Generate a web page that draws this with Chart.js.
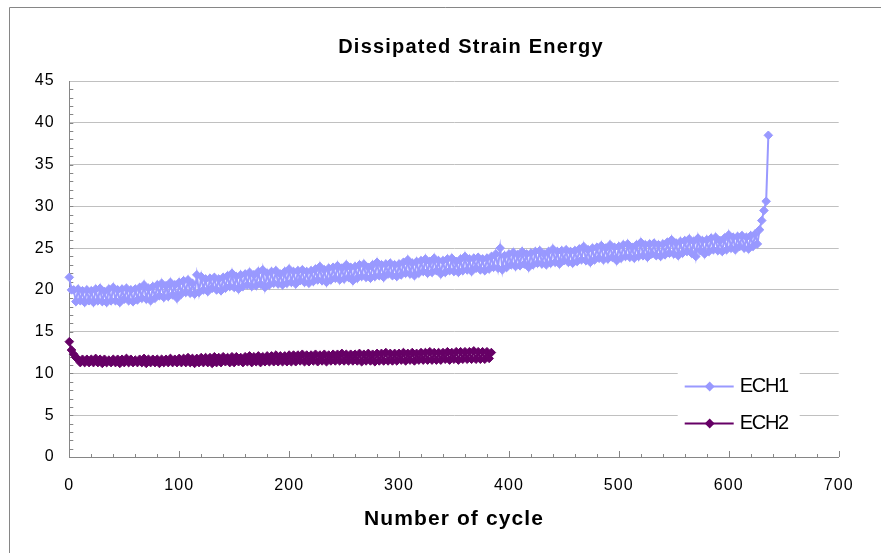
<!DOCTYPE html>
<html>
<head>
<meta charset="utf-8">
<title>Dissipated Strain Energy</title>
<script src="https://cdn.jsdelivr.net/npm/chart.js@4.4.1/dist/chart.umd.min.js"></script>
<style>
  html, body { margin: 0; padding: 0; background: #fff; }
  #wrap { width: 881px; height: 553px; position: relative; }
</style>
</head>
<body>
<div id="wrap"><canvas id="chart"></canvas></div>
<script>
// one reading every 2 cycles
const cycleStep = 2

const ech1 = [
  21.5, 20.0, 20.0, 18.6, 20.1, 18.7, 19.9, 18.5, 20.0, 18.7,
  19.9, 18.5, 20.1, 18.7, 20.2, 18.6, 19.8, 18.5, 20.1, 18.7,
  20.3, 18.7, 20.0, 18.5, 20.1, 18.9, 20.2, 18.7, 20.0, 18.6,
  20.1, 18.8, 20.3, 19.0, 20.6, 18.9, 20.2, 18.7, 20.4, 19.0,
  20.6, 19.3, 20.8, 19.1, 20.5, 19.2, 20.9, 19.4, 20.6, 19.0,
  20.9, 19.5, 21.1, 19.7, 21.2, 19.6, 20.8, 19.5, 21.8, 19.7,
  21.6, 20.0, 21.3, 19.8, 21.4, 20.2, 21.5, 20.0, 21.3, 19.9,
  21.5, 20.2, 21.7, 20.4, 22.0, 20.3, 21.6, 20.1, 21.8, 20.4,
  21.9, 20.6, 22.1, 20.4, 21.8, 20.5, 22.2, 20.7, 22.4, 20.3,
  22.0, 20.6, 22.2, 20.8, 22.3, 20.7, 21.9, 20.6, 22.2, 20.8,
  22.5, 20.9, 22.2, 20.7, 22.3, 21.1, 22.4, 20.9, 22.2, 20.8,
  22.3, 21.0, 22.5, 21.2, 22.8, 21.1, 22.4, 20.9, 22.6, 21.2,
  22.7, 21.4, 22.9, 21.2, 22.6, 21.3, 23.0, 21.5, 22.7, 21.1,
  22.8, 21.4, 23.0, 21.6, 23.1, 21.5, 22.7, 21.4, 23.0, 21.6,
  23.3, 21.7, 23.0, 21.5, 23.1, 21.9, 23.2, 21.7, 23.0, 21.6,
  23.1, 21.8, 23.3, 22.0, 23.6, 21.9, 23.2, 21.7, 23.4, 22.0,
  23.5, 22.2, 23.7, 22.0, 23.4, 22.1, 23.8, 22.3, 23.5, 21.9,
  23.5, 22.1, 23.7, 22.3, 23.8, 22.2, 23.4, 22.1, 23.7, 22.3,
  24.0, 22.4, 23.7, 22.2, 23.8, 22.6, 23.9, 22.4, 23.7, 22.3,
  23.8, 22.5, 24.0, 22.7, 24.3, 22.6, 25.0, 22.4, 24.1, 22.7,
  24.3, 23.0, 24.5, 22.8, 24.2, 22.9, 24.6, 23.1, 24.3, 22.7,
  24.4, 23.0, 24.6, 23.2, 24.7, 23.1, 24.3, 23.0, 24.6, 23.2,
  24.9, 23.3, 24.6, 23.1, 24.7, 23.5, 24.8, 23.3, 24.6, 23.2,
  24.7, 23.4, 24.9, 23.6, 25.2, 23.5, 24.8, 23.3, 25.0, 23.6,
  25.1, 23.8, 25.3, 23.6, 25.0, 23.7, 25.4, 23.9, 25.1, 23.5,
  25.2, 23.8, 25.4, 24.0, 25.5, 23.9, 25.1, 23.8, 25.4, 24.0,
  25.7, 24.1, 25.4, 23.9, 25.5, 24.3, 25.6, 24.1, 25.4, 24.0,
  25.5, 24.2, 25.7, 24.4, 26.0, 24.3, 25.6, 24.1, 25.8, 24.4,
  25.9, 24.6, 26.1, 24.4, 25.8, 24.0, 26.2, 24.7, 25.9, 24.3,
  26.0, 24.6, 26.2, 24.8, 26.3, 24.7, 25.9, 24.6, 26.2, 24.8,
  26.6, 25.0, 26.3, 24.8, 26.4, 25.2, 26.5, 25.0, 26.3, 24.9,
  26.5, 25.2, 26.7, 25.5, 27.2, 28.3, 29.5, 30.6, 38.5
]

const ech2 = [
  13.8, 12.8, 12.3, 11.9, 11.7, 11.3, 11.7, 11.3, 11.7, 11.3,
  11.7, 11.3, 11.8, 11.3, 11.7, 11.2, 11.7, 11.3, 11.6, 11.3,
  11.7, 11.3, 11.7, 11.2, 11.7, 11.3, 11.8, 11.3, 11.7, 11.3,
  11.6, 11.3, 11.7, 11.3, 11.8, 11.2, 11.7, 11.3, 11.7, 11.3,
  11.7, 11.2, 11.7, 11.3, 11.7, 11.3, 11.8, 11.3, 11.7, 11.3,
  11.8, 11.3, 11.8, 11.3, 11.9, 11.3, 11.8, 11.2, 11.8, 11.3,
  11.9, 11.3, 11.9, 11.3, 11.9, 11.2, 12.0, 11.3, 11.9, 11.3,
  12.0, 11.4, 11.9, 11.3, 12.0, 11.3, 12.0, 11.4, 11.9, 11.3,
  12.0, 11.4, 12.1, 11.3, 12.0, 11.4, 12.1, 11.3, 12.0, 11.4,
  12.1, 11.4, 12.1, 11.4, 12.2, 11.4, 12.1, 11.4, 12.1, 11.4,
  12.2, 11.4, 12.2, 11.4, 12.2, 11.5, 12.3, 11.4, 12.2, 11.4,
  12.2, 11.5, 12.3, 11.4, 12.2, 11.5, 12.3, 11.4, 12.2, 11.5,
  12.3, 11.5, 12.3, 11.5, 12.4, 11.5, 12.3, 11.5, 12.3, 11.5,
  12.3, 11.5, 12.4, 11.4, 12.3, 11.5, 12.4, 11.5, 12.3, 11.4,
  12.4, 11.5, 12.4, 11.5, 12.5, 11.5, 12.4, 11.5, 12.4, 11.5,
  12.4, 11.6, 12.5, 11.5, 12.4, 11.6, 12.5, 11.5, 12.4, 11.6,
  12.5, 11.6, 12.5, 11.6, 12.6, 11.6, 12.5, 11.6, 12.5, 11.6,
  12.5, 11.7, 12.6, 11.6, 12.5, 11.7, 12.6, 11.6, 12.6, 11.7,
  12.6, 11.7, 12.6, 11.7, 12.7, 11.7, 12.6, 11.7, 12.6, 11.7,
  12.6, 11.8, 12.5
]

const seriesNames = ["ECH1", "ECH2"]
const seriesColors = ["#9999ff", "#660066"]
const chartTitle = "Dissipated Strain Energy"
const xTitle = "Number of cycle"
const xMax = 700, xStep = 100, xMinorStep = 20
const yMax = 45, yStep = 5, yMinorStep = 1

const axisColor = "#868686"
const gridColor = "#c0c0c0"
const fontFamily = "'Liberation Sans', Arial, sans-serif"

function toPoints(values) {
  return values.map((v, i) => ({ x: i * cycleStep, y: v }))
}

const chartDecor = {
  id: "chartDecor",
  beforeDraw(chart) {
    const ctx = chart.ctx
    ctx.save()
    // outer frame, only top and left edges fall inside the canvas
    ctx.strokeStyle = axisColor
    ctx.lineWidth = 1
    ctx.beginPath()
    ctx.moveTo(9.5, chart.height)
    ctx.lineTo(9.5, 7.5)
    ctx.lineTo(chart.width, 7.5)
    ctx.stroke()
    // title sits a bit right of the plot centre
    ctx.fillStyle = "#000"
    ctx.font = "bold 20px " + fontFamily
    ctx.letterSpacing = "1.2px"
    ctx.textAlign = "center"
    ctx.textBaseline = "alphabetic"
    ctx.fillText(chartTitle, 471, 52.5)
    ctx.restore()
    // spaced out text for ticks and axis title
    ctx.letterSpacing = "1.1px"
  },
  beforeDatasetsDraw(chart) {
    const ctx = chart.ctx
    ctx.letterSpacing = "0px"
    const xs = chart.scales.x, ys = chart.scales.y
    ctx.save()
    ctx.strokeStyle = axisColor
    ctx.lineWidth = 1
    ctx.beginPath()
    for (let v = yMinorStep; v < yMax; v += yMinorStep) {
      const py = Math.round(ys.getPixelForValue(v)) + 0.5
      ctx.moveTo(xs.left, py)
      ctx.lineTo(xs.left + 4, py)
    }
    for (let v = xMinorStep; v <= xMax; v += xMinorStep) {
      const px = Math.round(xs.getPixelForValue(v)) + 0.5
      const len = v % xStep === 0 ? 6 : 3
      ctx.moveTo(px, ys.bottom)
      ctx.lineTo(px, ys.bottom - len)
    }
    ctx.stroke()
    ctx.restore()
  },
  afterDatasetsDraw(chart) {
    const ctx = chart.ctx
    const area = chart.chartArea
    const boxRight = area.right - 39
    const boxLeft = boxRight - 122
    const rowY = [area.bottom - 71, area.bottom - 34]
    ctx.save()
    ctx.fillStyle = "#fff"
    ctx.fillRect(boxLeft, rowY[0] - 16, boxRight - boxLeft, 70)
    chart.data.datasets.forEach((ds, i) => {
      const y = rowY[i] + 0.5
      ctx.strokeStyle = ds.borderColor
      ctx.lineWidth = 2
      ctx.beginPath()
      ctx.moveTo(boxLeft + 7, y)
      ctx.lineTo(boxLeft + 56, y)
      ctx.stroke()
      Chart.helpers.drawPoint(ctx, { pointStyle: "rectRot", radius: 3.5, borderWidth: 1 }, boxLeft + 32, y)
      ctx.fillStyle = ds.borderColor
      ctx.fill()
      ctx.fillStyle = "#000"
      ctx.font = "20px " + fontFamily
      ctx.letterSpacing = "-1.3px"
      ctx.textAlign = "left"
      ctx.textBaseline = "alphabetic"
      ctx.fillText(ds.label, boxLeft + 62, rowY[i] + 5.5)
    })
    ctx.restore()
  }
}

const datasets = [ech1, ech2].map((values, i) => ({
  label: seriesNames[i],
  data: toPoints(values),
  showLine: true,
  borderColor: seriesColors[i],
  backgroundColor: seriesColors[i],
  borderWidth: 2,
  pointStyle: "rectRot",
  pointRadius: 4.3,
  pointBorderWidth: 1,
  pointBackgroundColor: seriesColors[i],
  pointBorderColor: seriesColors[i],
  clip: false
}))

Chart.defaults.color = "#000"
Chart.defaults.font.family = fontFamily

new Chart(document.getElementById("chart"), {
  type: "scatter",
  data: { datasets: datasets },
  options: {
    responsive: true,
    maintainAspectRatio: false,
    animation: false,
    events: [],
    layout: { padding: { left: 9.3, right: 42.3, top: 81, bottom: 0 } },
    plugins: {
      legend: { display: false },
      tooltip: { enabled: false },
      title: { display: false }
    },
    scales: {
      x: {
        type: "linear",
        min: 0,
        max: xMax,
        afterFit(scale) { scale.height = 96 },
        ticks: { stepSize: xStep, padding: 18.5, font: { size: 16 }, maxRotation: 0 },
        grid: { drawOnChartArea: false, drawTicks: false },
        border: { color: axisColor, width: 1 },
        title: {
          display: true,
          text: xTitle,
          font: { size: 21, weight: "bold" },
          padding: { top: 0, bottom: 21.4 }
        }
      },
      y: {
        min: 0,
        max: yMax,
        afterFit(scale) { scale.width = 60 },
        ticks: { stepSize: yStep, padding: 14.5, font: { size: 16 } },
        grid: { color: gridColor, drawTicks: false },
        border: { color: axisColor, width: 1 }
      }
    }
  },
  plugins: [chartDecor]
})
</script>
</body>
</html>
